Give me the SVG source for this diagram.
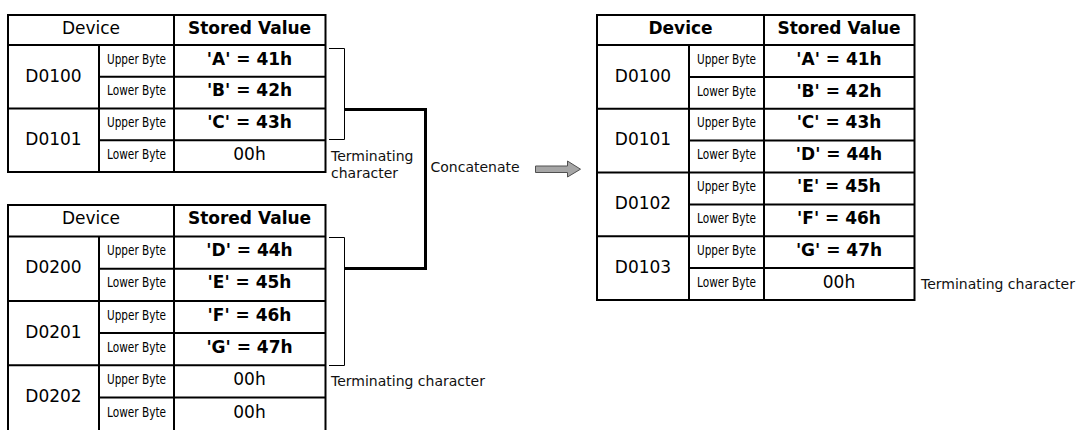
<svg xmlns="http://www.w3.org/2000/svg" width="1077" height="430" viewBox="0 0 1077 430">
<style>
text{font-family:"DejaVu Sans","Liberation Sans",sans-serif;fill:#000}
.g{fill:none;stroke:#000;stroke-width:2}
.hd{font-size:17px;text-anchor:middle}
.hb{font-size:17px;font-weight:bold;text-anchor:middle}
.dv{font-size:17px;text-anchor:middle}
.by{font-size:13.5px;text-anchor:middle}
.vb{font-size:17px;font-weight:bold;text-anchor:middle}
.vr{font-size:17px;text-anchor:middle}
.nt{font-size:14px;fill:#111}
.thin{fill:none;stroke:#000;stroke-width:1}
.thick{fill:none;stroke:#000;stroke-width:3}
</style>
<rect width="1077" height="430" fill="#fff"/>

<g id="table1">
<rect class="g" x="8" y="15" width="317.5" height="157"/>
<path class="g" d="M8 45H325.5M99 76.75H325.5M8 108.5H325.5M99 140.25H325.5M99 45V172M174 15V172"/>
<text class="hd" x="91" y="33.5">Device</text>
<text class="hb" x="249.5" y="33.5">Stored Value</text>
<text class="dv" x="53.5" y="81.5">D0100</text>
<text class="dv" x="53.5" y="145">D0101</text>
<text class="by" x="136.5" y="63.5" textLength="59" lengthAdjust="spacingAndGlyphs">Upper Byte</text>
<text class="by" x="136.5" y="95" textLength="59" lengthAdjust="spacingAndGlyphs">Lower Byte</text>
<text class="by" x="136.5" y="127" textLength="59" lengthAdjust="spacingAndGlyphs">Upper Byte</text>
<text class="by" x="136.5" y="158.5" textLength="59" lengthAdjust="spacingAndGlyphs">Lower Byte</text>
<text class="vb" x="249.5" y="64.5">'A' = 41h</text>
<text class="vb" x="249.5" y="96">'B' = 42h</text>
<text class="vb" x="249.5" y="128">'C' = 43h</text>
<text class="vr" x="249.5" y="160">00h</text>
</g>

<g id="table2">
<path class="g" d="M8 431V205H325.5V431"/>
<path class="g" d="M8 236.5H325.5M99 268.7H325.5M8 300.9H325.5M99 333.1H325.5M8 365.3H325.5M99 397.5H325.5M99 236.5V431M174 205V431"/>
<text class="hd" x="91" y="224">Device</text>
<text class="hb" x="249.5" y="224">Stored Value</text>
<text class="dv" x="53.5" y="273">D0200</text>
<text class="dv" x="53.5" y="337.5">D0201</text>
<text class="dv" x="53.5" y="402">D0202</text>
<text class="by" x="136.5" y="255" textLength="59" lengthAdjust="spacingAndGlyphs">Upper Byte</text>
<text class="by" x="136.5" y="287" textLength="59" lengthAdjust="spacingAndGlyphs">Lower Byte</text>
<text class="by" x="136.5" y="319.5" textLength="59" lengthAdjust="spacingAndGlyphs">Upper Byte</text>
<text class="by" x="136.5" y="351.5" textLength="59" lengthAdjust="spacingAndGlyphs">Lower Byte</text>
<text class="by" x="136.5" y="384" textLength="59" lengthAdjust="spacingAndGlyphs">Upper Byte</text>
<text class="by" x="136.5" y="417" textLength="59" lengthAdjust="spacingAndGlyphs">Lower Byte</text>
<text class="vb" x="249.5" y="256">'D' = 44h</text>
<text class="vb" x="249.5" y="288">'E' = 45h</text>
<text class="vb" x="249.5" y="320.5">'F' = 46h</text>
<text class="vb" x="249.5" y="352.5">'G' = 47h</text>
<text class="vr" x="249.5" y="385">00h</text>
<text class="vr" x="249.5" y="418">00h</text>
</g>

<g id="table3">
<rect class="g" x="597" y="15" width="317.5" height="285"/>
<path class="g" d="M597 45H914.5M689 76.9H914.5M597 108.75H914.5M689 140.6H914.5M597 172.5H914.5M689 204.4H914.5M597 236.25H914.5M689 268.1H914.5M689 45V300M764 15V300"/>
<text class="hb" x="680.5" y="33.5">Device</text>
<text class="hb" x="839" y="33.5">Stored Value</text>
<text class="dv" x="643" y="81.5">D0100</text>
<text class="dv" x="643" y="145">D0101</text>
<text class="dv" x="643" y="209">D0102</text>
<text class="dv" x="643" y="273">D0103</text>
<text class="by" x="726.5" y="63.5" textLength="59" lengthAdjust="spacingAndGlyphs">Upper Byte</text>
<text class="by" x="726.5" y="95.5" textLength="59" lengthAdjust="spacingAndGlyphs">Lower Byte</text>
<text class="by" x="726.5" y="127" textLength="59" lengthAdjust="spacingAndGlyphs">Upper Byte</text>
<text class="by" x="726.5" y="159" textLength="59" lengthAdjust="spacingAndGlyphs">Lower Byte</text>
<text class="by" x="726.5" y="191" textLength="59" lengthAdjust="spacingAndGlyphs">Upper Byte</text>
<text class="by" x="726.5" y="223" textLength="59" lengthAdjust="spacingAndGlyphs">Lower Byte</text>
<text class="by" x="726.5" y="254.5" textLength="59" lengthAdjust="spacingAndGlyphs">Upper Byte</text>
<text class="by" x="726.5" y="286.5" textLength="59" lengthAdjust="spacingAndGlyphs">Lower Byte</text>
<text class="vb" x="839" y="64.5">'A' = 41h</text>
<text class="vb" x="839" y="96.5">'B' = 42h</text>
<text class="vb" x="839" y="128">'C' = 43h</text>
<text class="vb" x="839" y="160">'D' = 44h</text>
<text class="vb" x="839" y="192">'E' = 45h</text>
<text class="vb" x="839" y="224">'F' = 46h</text>
<text class="vb" x="839" y="256">'G' = 47h</text>
<text class="vr" x="839" y="288">00h</text>
</g>

<g id="connectors">
<path class="thin" d="M329 48.5H344.5V139.5H329"/>
<path class="thin" d="M329 237.5H344.5V365.5H329"/>
<path class="thick" d="M344.5 109.5H425.5V268.5H344.5"/>
<polygon points="535.5,166 567.5,166 567.5,161 580.5,169.2 567.5,177 567.5,172.5 535.5,172.5" fill="#a6a6a6" stroke="#505050" stroke-width="1"/>
</g>

<g id="labels">
<text class="nt" x="331" y="160.5">Terminating</text>
<text class="nt" x="331" y="177.5">character</text>
<text class="nt" x="430.5" y="171.5">Concatenate</text>
<text class="nt" x="331" y="385.5">Terminating character</text>
<text class="nt" x="921" y="288.5">Terminating character</text>
</g>
</svg>
